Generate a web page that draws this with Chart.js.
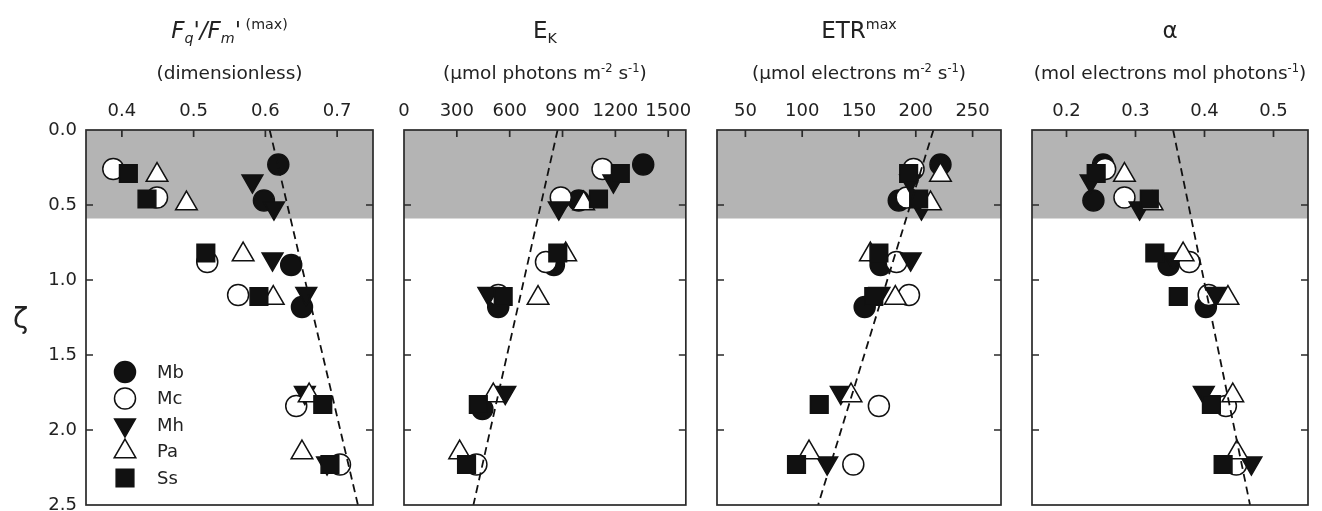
<!DOCTYPE html>
<html>
<head>
<meta charset="utf-8">
<script src="https://cdn.jsdelivr.net/npm/chart.js@4.4.1/dist/chart.umd.min.js"></script>
<style>
  body { margin: 0; background: #fff; }
  #wrap { position: relative; width: 1322px; height: 511px; overflow: hidden; font-family: 'DejaVu Sans', sans-serif; color: #222; }
  canvas { position: absolute; top: 0; }
  .t1, .t2 { position: absolute; white-space: nowrap; transform: translateX(-50%); line-height: 1; }
  .t1 { font-size: 23px; top: 19px; }
  .t2 { font-size: 18.5px; top: 64px; }
  sup, sub { font-size: 62%; line-height: 0; position: relative; vertical-align: baseline; }
  sup { top: -0.65em; }
  sub { top: 0.35em; }
  #zeta { position: absolute; left: 13px; top: 302px; font-size: 28px; }
</style>
</head>
<body>
<div id="wrap">
  <canvas id="c1" width="390" height="530" style="left:0px"></canvas>
  <canvas id="c2" width="310" height="530" style="left:390px"></canvas>
  <canvas id="c3" width="315" height="530" style="left:700px"></canvas>
  <canvas id="c4" width="307" height="530" style="left:1015px"></canvas>

  <div class="t1" id="h1"><i>F<sub>q</sub>'/F<sub>m</sub>'</i><sup> (max)</sup></div>
  <div class="t2" id="s1">(dimensionless)</div>
  <div class="t1" id="h2">E<sub>K</sub></div>
  <div class="t2" id="s2">(μmol photons m<sup>-2</sup> s<sup>-1</sup>)</div>
  <div class="t1" id="h3">ETR<sup>max</sup></div>
  <div class="t2" id="s3">(μmol electrons m<sup>-2</sup> s<sup>-1</sup>)</div>
  <div class="t1" id="h4">α</div>
  <div class="t2" id="s4">(mol electrons mol photons<sup>-1</sup>)</div>
  <div id="zeta">ζ</div>
</div>

<script>
// depth (zeta) of each sample, per species
const depthMb = [0.23, 0.47, 0.90, 1.18, 1.86]
const depthMc = [0.26, 0.45, 0.88, 1.10, 1.84, 2.23]
const depthMh = [0.34, 0.52, 0.86, 1.09, 1.75, 2.22]
const depthPa = [0.30, 0.49, 0.83, 1.12, 1.77, 2.15]
const depthSs = [0.29, 0.46, 0.82, 1.11, 1.83, 2.23]

// Fq'/Fm'(max)
const fqfmMb = [0.618, 0.598, 0.636, 0.651, null]
const fqfmMc = [0.388, 0.449, 0.519, 0.562, 0.643, 0.704]
const fqfmMh = [0.582, 0.612, 0.610, 0.657, 0.655, 0.686]
const fqfmPa = [0.449, 0.490, 0.569, 0.611, 0.661, 0.651]
const fqfmSs = [0.409, 0.435, 0.517, 0.591, 0.680, 0.690]

// Ek
const ekMb = [1358, 992, 851, 535, 445]
const ekMc = [1127, 890, 806, 535, null, 411]
const ekMh = [1189, 879, null, 479, 575, null]
const ekPa = [null, 1020, 918, 761, 507, 316]
const ekSs = [1228, 1104, 873, 563, 422, 355]

// ETRmax
const etrMb = [221.7, 185, 169, 155, null]
const etrMc = [198, 192, 183, 194, 167.5, 145]
const etrMh = [195, 205, 195.5, 168, 134, 122]
const etrPa = [221.7, 213, 160, 182, 143, 106]
const etrSs = [193.7, 202.5, 167.5, 163, 115, 95]

// alpha
const alphaMb = [0.253, 0.239, 0.348, 0.402, null]
const alphaMc = [0.256, 0.284, 0.378, 0.406, 0.431, 0.446]
const alphaMh = [0.235, 0.306, 0.355, 0.416, 0.399, 0.468]
const alphaPa = [0.284, 0.324, 0.369, 0.434, 0.441, 0.447]
const alphaSs = [0.243, 0.320, 0.328, 0.362, 0.410, 0.427]

// regression lines (ends at zeta 0 and 2.5)
const fitDepth = [0, 2.5]
const fitFqfm = [0.606, 0.729]
const fitEk = [872, 394]
const fitEtr = [215.5, 114]
const fitAlpha = [0.3545, 0.466]

const ticksFqfm = [0.4, 0.5, 0.6, 0.7]
const ticksEk = [0, 300, 600, 900, 1200, 1500]
const ticksEtr = [50, 100, 150, 200, 250]
const ticksAlpha = [0.2, 0.3, 0.4, 0.5]
const depthTicks = [0, 0.5, 1, 1.5, 2, 2.5]

const speciesNames = ['Mb', 'Mc', 'Mh', 'Pa', 'Ss']
const shadeDepth = 0.59

Chart.defaults.font.family = "'DejaVu Sans', sans-serif"
Chart.defaults.font.size = 18
Chart.defaults.color = '#222'

const ink = '#111'
const styles = {
  Mb: { pointStyle: 'circle', radius: 10.5, rotation: 0, fill: ink },
  Mc: { pointStyle: 'circle', radius: 10.5, rotation: 0, fill: '#fff' },
  Mh: { pointStyle: 'triangle', radius: 12, rotation: 180, fill: ink },
  Pa: { pointStyle: 'triangle', radius: 12.5, rotation: 0, fill: '#fff' },
  Ss: { pointStyle: 'rect', radius: 12.5, rotation: 0, fill: ink },
}
// draw order: Ss on top, Mb at the bottom
const drawOrder = { Mb: 5, Mc: 4, Mh: 3, Pa: 2, Ss: 1 }

function toPoints(vals, depths) {
  return vals.map((v, i) => v == null ? null : { x: v, y: depths[i] }).filter(Boolean)
}

function speciesSet(name, vals, depths) {
  const s = styles[name]
  return {
    label: name,
    data: toPoints(vals, depths),
    pointStyle: s.pointStyle,
    pointRadius: s.radius,
    pointRotation: s.rotation,
    pointBackgroundColor: s.fill,
    pointBorderColor: ink,
    pointBorderWidth: 1.5,
    order: drawOrder[name],
  }
}

const decor = {
  id: 'decor',
  beforeDatasetsDraw(chart) {
    const { ctx, chartArea: a, scales: { y } } = chart
    ctx.save()
    ctx.fillStyle = '#b4b4b4'
    const yb = y.getPixelForValue(shadeDepth)
    ctx.fillRect(a.left, a.top, a.right - a.left, yb - a.top)
    ctx.restore()
  },
  afterDatasetsDraw(chart, args, opts) {
    const { ctx, chartArea: a, scales: { x, y } } = chart
    ctx.save()
    ctx.strokeStyle = '#2a2a2a'
    ctx.lineWidth = 1.7
    ctx.strokeRect(a.left, a.top, a.right - a.left, a.bottom - a.top)
    ctx.beginPath()
    opts.xTicks.forEach(v => {
      const px = x.getPixelForValue(v)
      if (px <= a.left + 1) return
      ctx.moveTo(px, a.top)
      ctx.lineTo(px, a.top + 7)
    })
    depthTicks.slice(1, -1).forEach(v => {
      const py = y.getPixelForValue(v)
      ctx.moveTo(a.left, py)
      ctx.lineTo(a.left + 7, py)
      ctx.moveTo(a.right, py)
      ctx.lineTo(a.right - 7, py)
    })
    ctx.stroke()

    if (opts.legend) {
      speciesNames.forEach((name, i) => {
        const s = styles[name]
        const ly = 372 + i * 26.5
        ctx.fillStyle = s.fill
        ctx.strokeStyle = ink
        ctx.lineWidth = 1.5
        Chart.helpers.drawPoint(ctx, { pointStyle: s.pointStyle, radius: s.radius, rotation: s.rotation, borderWidth: 1.5 }, 125, ly)
        ctx.fillStyle = '#222'
        ctx.font = "18px 'DejaVu Sans', sans-serif"
        ctx.textBaseline = 'middle'
        ctx.textAlign = 'left'
        ctx.fillText(name, 157, ly + 1)
      })
    }
    ctx.restore()
  }
}

function makePanel(id, cfg) {
  const chart = new Chart(document.getElementById(id), {
    type: 'scatter',
    data: {
      datasets: [
        speciesSet('Mb', cfg.vals[0], depthMb),
        speciesSet('Mc', cfg.vals[1], depthMc),
        speciesSet('Mh', cfg.vals[2], depthMh),
        speciesSet('Pa', cfg.vals[3], depthPa),
        speciesSet('Ss', cfg.vals[4], depthSs),
        {
          label: 'fit',
          data: toPoints(cfg.fit, fitDepth),
          showLine: true,
          borderColor: ink,
          borderWidth: 1.8,
          borderDash: [8, 5],
          pointRadius: 0,
          order: 0,
        }
      ]
    },
    options: {
      responsive: false,
      animation: false,
      events: [],
      layout: { padding: { left: cfg.padL, right: cfg.padR, top: 0, bottom: 25 } },
      plugins: {
        legend: { display: false },
        tooltip: { enabled: false },
        decor: { xTicks: cfg.ticks, legend: cfg.legend },
      },
      scales: {
        x: {
          type: 'linear',
          position: 'top',
          min: cfg.min,
          max: cfg.max,
          grid: { display: false, drawTicks: false },
          border: { display: false },
          ticks: { padding: 8, maxRotation: 0, callback: cfg.fmt },
          afterBuildTicks: s => { s.ticks = cfg.ticks.map(v => ({ value: v })) },
          afterFit: s => { s.height = 130 },
        },
        y: {
          type: 'linear',
          reverse: true,
          min: 0,
          max: 2.5,
          display: cfg.showY,
          grid: { display: false, drawTicks: false },
          border: { display: false },
          ticks: { padding: 9, callback: v => v.toFixed(1) },
          afterBuildTicks: s => { s.ticks = depthTicks.map(v => ({ value: v })) },
          afterFit: s => { s.width = cfg.showY ? 86 : 0 },
        }
      }
    },
    plugins: [decor]
  })
  return chart
}

const one = v => v.toFixed(1)
const int = v => String(v)

const panels = [
  makePanel('c1', { vals: [fqfmMb, fqfmMc, fqfmMh, fqfmPa, fqfmSs], fit: fitFqfm, ticks: ticksFqfm, min: 0.35, max: 0.75, fmt: one, padL: 0, padR: 17, showY: true, legend: true }),
  makePanel('c2', { vals: [ekMb, ekMc, ekMh, ekPa, ekSs], fit: fitEk, ticks: ticksEk, min: 0, max: 1600, fmt: int, padL: 12, padR: 14, showY: false, legend: false }),
  makePanel('c3', { vals: [etrMb, etrMc, etrMh, etrPa, etrSs], fit: fitEtr, ticks: ticksEtr, min: 25, max: 275, fmt: int, padL: 17, padR: 12, showY: false, legend: false }),
  makePanel('c4', { vals: [alphaMb, alphaMc, alphaMh, alphaPa, alphaSs], fit: fitAlpha, ticks: ticksAlpha, min: 0.15, max: 0.55, fmt: one, padL: 17, padR: 7, showY: false, legend: false }),
]

// centre the titles over each plot area
panels.forEach((ch, i) => {
  const off = parseFloat(ch.canvas.style.left)
  const cx = off + (ch.chartArea.left + ch.chartArea.right) / 2
  document.getElementById('h' + (i + 1)).style.left = cx + 'px'
  document.getElementById('s' + (i + 1)).style.left = cx + 'px'
})
</script>
</body>
</html>
